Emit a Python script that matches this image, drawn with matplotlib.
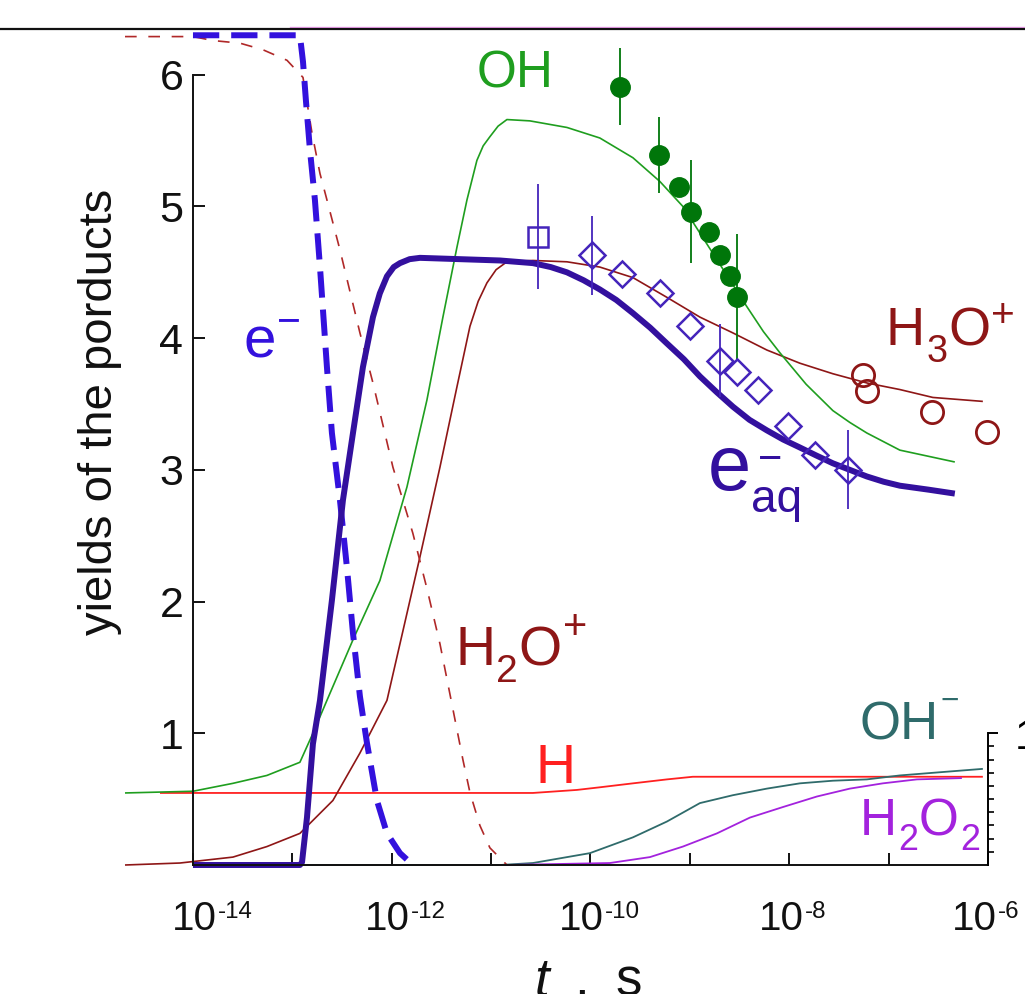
import numpy as np
import matplotlib
matplotlib.use("Agg")
import matplotlib.pyplot as plt
from matplotlib import font_manager
from matplotlib.ticker import FixedLocator, NullLocator
from matplotlib.lines import Line2D

# ---------------- data (log10 of time in s, yields) ----------------
e_minus_logt = [-14.0, -12.924, -12.893, -12.863, -12.823, -12.773, -12.722, -12.652,
                -12.602, -12.521, -12.451, -12.390, -12.320, -12.250, -12.149, -12.048,
                -11.917, -11.787]
e_minus_y = [6.30, 6.30, 6.10, 5.80, 5.43, 5.05, 4.54, 3.78, 3.28, 2.77, 2.26, 1.76,
             1.28, 0.93, 0.49, 0.24, 0.09, 0.0]

e_aq_logt = [-14.0, -12.924, -12.903, -12.853, -12.793, -12.722, -12.602, -12.491,
             -12.390, -12.290, -12.189, -12.12, -12.048, -11.98, -11.917, -11.82, -11.716,
             -10.911, -10.580, -10.40, -10.237, -10.07, -9.906, -9.74, -9.573, -9.40,
             -9.231, -9.06, -8.899, -8.73, -8.567, -8.40, -8.225, -8.06, -7.893, -7.73,
             -7.561, -7.39, -7.219, -7.05, -6.887, -6.60, -6.334]
e_aq_y = [0.0, 0.0, 0.02, 0.36, 0.92, 1.25, 2.01, 2.77, 3.28, 3.78, 4.16, 4.34, 4.47,
          4.54, 4.57, 4.60, 4.61, 4.59, 4.57, 4.54, 4.50, 4.44, 4.37, 4.29, 4.19, 4.08,
          3.96, 3.84, 3.71, 3.59, 3.48, 3.38, 3.30, 3.23, 3.17, 3.11, 3.05, 3.00, 2.95,
          2.91, 2.88, 2.85, 2.82]

oh_logt = [-14.684, -14.0, -13.598, -13.256, -12.924, -12.793, -12.652, -12.390, -12.119,
           -11.847, -11.646, -11.485, -11.344, -11.243, -11.143, -11.08, -11.012, -10.93,
           -10.841, -10.610, -10.237, -9.906, -9.573, -9.302, -9.070, -8.748, -8.427,
           -8.26, -8.095, -7.83, -7.561, -7.39, -7.219, -6.887, -6.334]
oh_y = [0.547, 0.56, 0.62, 0.68, 0.78, 1.0, 1.25, 1.71, 2.16, 2.87, 3.53, 4.16, 4.69,
        5.05, 5.35, 5.46, 5.53, 5.61, 5.66, 5.65, 5.60, 5.52, 5.37, 5.19, 5.00, 4.62,
        4.24, 4.05, 3.89, 3.65, 3.45, 3.36, 3.28, 3.15, 3.06]

h2o_plus_logt = [-14.684, -14.0, -13.799, -13.527, -13.296, -13.054, -12.893, -12.803,
                 -12.722, -12.652, -12.521, -12.320, -12.189, -11.988, -11.788, -11.646,
                 -11.515, -11.394, -11.284, -11.213, -11.113, -11.012, -10.841]
h2o_plus_y = [6.29, 6.29, 6.26, 6.24, 6.19, 6.11, 5.98, 5.56, 5.25, 5.05, 4.67, 4.04,
              3.66, 3.02, 2.52, 2.10, 1.68, 1.22, 0.80, 0.55, 0.30, 0.13, 0.0]

h3o_plus_logt = [-14.684, -14.131, -13.598, -13.256, -12.924, -12.592, -12.320, -12.048,
                 -11.716, -11.515, -11.344, -11.213, -11.13, -11.042, -10.95, -10.841,
                 -10.580, -10.237, -9.906, -9.573, -9.231, -8.899, -8.567, -8.225, -7.893,
                 -7.561, -7.219, -6.887, -6.555, -6.052]
h3o_plus_y = [0.0, 0.015, 0.06, 0.14, 0.24, 0.49, 0.85, 1.25, 2.34, 3.02, 3.63, 4.09,
              4.28, 4.42, 4.52, 4.58, 4.59, 4.58, 4.54, 4.46, 4.31, 4.16, 4.04, 3.91,
              3.81, 3.73, 3.66, 3.61, 3.55, 3.52]

h_logt = [-14.332, -10.580, -10.137, -9.906, -9.573, -9.231, -8.970, -6.052]
h_y = [0.547, 0.547, 0.57, 0.59, 0.62, 0.65, 0.67, 0.67]

oh_minus_logt = [-12.893, -10.911, -10.580, -10.006, -9.573, -9.231, -8.899, -8.567,
                 -8.225, -7.893, -7.561, -7.219, -6.887, -6.555, -6.052]
oh_minus_y = [0.0, 0.0, 0.015, 0.09, 0.21, 0.33, 0.47, 0.53, 0.58, 0.62, 0.64, 0.65,
              0.68, 0.70, 0.73]

h2o2_logt = [-10.861, -9.805, -9.402, -9.070, -8.728, -8.396, -8.064, -7.722, -7.390,
             -7.058, -6.716, -6.263]
h2o2_y = [0.0, 0.015, 0.06, 0.14, 0.24, 0.36, 0.44, 0.52, 0.58, 0.62, 0.65, 0.66]

# experimental points
oh_pts_logt = [-9.704, -9.312, -9.111, -8.990, -8.809, -8.698, -8.598, -8.527]
oh_pts_y = [5.91, 5.39, 5.15, 4.96, 4.81, 4.63, 4.47, 4.31]
oh_pts_err = [0.29, 0.29, 0.0, 0.39, 0.0, 0.0, 0.0, 0.48]

eaq_sq_logt = [-10.529]
eaq_sq_y = [4.77]
eaq_sq_err = [0.40]

eaq_dia_logt = [-9.986, -9.684, -9.302, -9.0, -8.698, -8.527, -8.316, -8.014, -7.742, -7.410]
eaq_dia_y = [4.63, 4.49, 4.34, 4.09, 3.83, 3.74, 3.61, 3.33, 3.11, 3.00]
eaq_dia_err = [0.30, 0.0, 0.0, 0.0, 0.28, 0.0, 0.0, 0.0, 0.0, 0.30]

h3o_pts_logt = [-7.260, -7.215, -6.565, -6.012]
h3o_pts_y = [3.72, 3.60, 3.44, 3.29]

x_tick_exps = list(range(-14, -5))
x_label_exps = [-14, -12, -10, -8, -6]
y_ticks = [1, 2, 3, 4, 5, 6]

# ---------------- style ----------------
W, H = 1025, 994
names = {f.name for f in font_manager.fontManager.ttflist}
REG = "Liberation Sans" if "Liberation Sans" in names else "DejaVu Sans"
NAR = "Liberation Sans Narrow" if "Liberation Sans Narrow" in names else REG

C_EM = "#3311dd"
C_EAQ = "#33109e"
C_EAQ_PT = "#4424bb"
C_OH = "#1f9e1f"
C_OH_PT = "#00760a"
C_H2OP = "#b02828"
C_H3OP = "#8e1616"
C_H = "#ff2020"
C_OHM = "#2f6b6b"
C_H2O2 = "#a322dd"

fig = plt.figure(figsize=(W / 100, H / 100), dpi=100)
ax = fig.add_axes([125 / W, 1 - 865 / H, 865 / W, 835 / H])
ax.set_xscale("log")
ax.set_xlim(10 ** -14.684, 10 ** -5.98)
ax.set_ylim(0, 6.34)
ax.patch.set_visible(False)


def T(v):
    return 10.0 ** np.asarray(v)


kw = dict(clip_on=False, solid_capstyle="butt", solid_joinstyle="round")
ax.plot(T(h_logt), h_y, color=C_H, lw=1.3, **kw)
ax.plot(T(oh_minus_logt), oh_minus_y, color=C_OHM, lw=1.3, **kw)
ax.plot(T(h2o2_logt), h2o2_y, color=C_H2O2, lw=1.3, **kw)
ax.plot(T(h3o_plus_logt), h3o_plus_y, color=C_H3OP, lw=1.2, **kw)
ax.plot(T(oh_logt), oh_y, color=C_OH, lw=1.2, **kw)
ax.plot(T(h2o_plus_logt), h2o_plus_y, color=C_H2OP, lw=1.2, dashes=(7, 7), clip_on=False)
ax.plot(T(e_minus_logt), e_minus_y, color=C_EM, lw=4.3, dashes=(4.4, 2.0), clip_on=False)
ax.plot(T(e_aq_logt), e_aq_y, color=C_EAQ, lw=4.3, **kw)

ax.errorbar(T(oh_pts_logt), oh_pts_y, yerr=oh_pts_err, fmt="o", ms=14, color=C_OH_PT,
            mfc=C_OH_PT, mec=C_OH_PT, elinewidth=1.3, capsize=0, clip_on=False, zorder=5)
ax.errorbar(T(eaq_sq_logt), eaq_sq_y, yerr=eaq_sq_err, fmt="s", ms=14, color=C_EAQ_PT,
            mfc="none", mec=C_EAQ_PT, mew=1.8, elinewidth=1.3, capsize=0, zorder=5)
ax.errorbar(T(eaq_dia_logt), eaq_dia_y, yerr=eaq_dia_err, fmt="D", ms=13, color=C_EAQ_PT,
            mfc="none", mec=C_EAQ_PT, mew=1.8, elinewidth=1.3, capsize=0, zorder=5)
ax.plot(T(h3o_pts_logt), h3o_pts_y, "o", ms=16, mfc="none", mec=C_H3OP, mew=2.0,
        clip_on=False, zorder=5)

# ---------------- axes ----------------
for s in ("top", "right"):
    ax.spines[s].set_visible(False)
ax.spines["left"].set_position(("data", 1e-14))
ax.spines["left"].set_bounds(0, 6)
ax.spines["bottom"].set_bounds(1e-14, 1e-6)
for s in ("left", "bottom"):
    ax.spines[s].set_linewidth(1.4)
    ax.spines[s].set_color("#111111")

ax.set_yticks(y_ticks)
ax.set_yticklabels([str(v) for v in y_ticks])
ax.tick_params(axis="y", direction="in", length=8.6, width=1.4, pad=7,
               labelsize=31, colors="#111111")
for lab in ax.get_yticklabels():
    lab.set_family(REG)

ax.xaxis.set_major_locator(FixedLocator([10.0 ** e for e in x_tick_exps]))
ax.xaxis.set_minor_locator(NullLocator())
ax.tick_params(axis="x", which="major", direction="in", length=8.6, width=1.4,
               labelbottom=False, colors="#111111")

ax2 = ax.twinx()
ax2.set_ylim(ax.get_ylim())
for s in ("top", "left", "bottom"):
    ax2.spines[s].set_visible(False)
ax2.spines["right"].set_position(("data", 1e-6))
ax2.spines["right"].set_bounds(0, 1)
ax2.spines["right"].set_linewidth(1.4)
ax2.set_yticks([1])
ax2.set_yticklabels(["1"])
ax2.yaxis.set_minor_locator(FixedLocator(np.arange(1, 10) / 10))
ax2.tick_params(axis="y", which="major", direction="out", length=7.5, width=1.4,
                pad=12, labelsize=31)
ax2.tick_params(axis="y", which="minor", direction="out", length=4, width=1.2)
for lab in ax2.get_yticklabels():
    lab.set_family(REG)

renderer = fig.canvas.get_renderer()


def parts_text(x_px, base_px, parts, size, color, family, ha="left", style="normal"):
    """parts: (string, scale, raise in px)."""
    items = []
    x = 0.0
    for s, sc, dy in parts:
        t = fig.text(0, 0, s, fontsize=size * sc, family=family, color=color,
                     va="baseline", ha="left", fontstyle=style)
        w = t.get_window_extent(renderer).width
        items.append((t, x, dy))
        x += w + 1
    x0 = x_px - (x / 2 if ha == "center" else 0)
    for t, xo, dy in items:
        t.set_position(((x0 + xo) / W, (H - base_px + dy) / H))


# x tick labels at the scale positions of the ticks
for e in x_label_exps:
    xd = ax.transData.transform((10.0 ** e, 0))[0]
    shift = 20 - 2.7 * (e + 14)
    parts_text(xd + shift, 930, [("10", 1, 0), ("-%d" % -e, 0.6, 12)], 29, "#111111", NAR,
               ha="center")

# axis labels
fig.text(100 / W, 1 - 412 / H, "yields of the porducts", rotation=90, ha="center",
         va="center", fontsize=34, family=REG, color="#111111")
fig.text(535 / W, (H - 996) / H, "t", fontsize=38, family=REG, style="italic",
         va="baseline", color="#111111")
fig.text(574 / W, (H - 996) / H, ",", fontsize=38, family=REG, va="baseline", color="#111111")
fig.text(615 / W, (H - 996) / H, "s", fontsize=38, family=REG, va="baseline", color="#111111")

# curve labels
parts_text(477, 87, [("OH", 1, 0)], 37, C_OH, NAR)
parts_text(243, 357, [("e", 1, 0), ("\u2212", 0.7, 24)], 42, C_EM, REG)
fig.text(708 / W, (H - 490) / H, "e", fontsize=56, family=REG, color=C_EAQ, va="baseline")
fig.text(758 / W, (H - 471) / H, "\u2212", fontsize=30, family=REG, color=C_EAQ, va="baseline")
fig.text(751 / W, (H - 512) / H, "aq", fontsize=33, family=REG, color=C_EAQ, va="baseline")
parts_text(886, 345, [("H", 1, 0), ("3", 0.7, -17), ("O", 1, 0), ("+", 0.75, 18)], 39,
           C_H3OP, REG)
parts_text(455, 665, [("H", 1, 0), ("2", 0.7, -17), ("O", 1, 0), ("+", 0.75, 26)], 40,
           C_H3OP, REG)
parts_text(535, 783, [("H", 1, 0)], 40, C_H, REG)
parts_text(860, 740, [("OH", 1, 0), ("\u2212", 0.6, 30)], 38, C_OHM, NAR)
parts_text(860, 835, [("H", 1, 0), ("2", 0.7, -15), ("O", 1, 0), ("2", 0.7, -15)], 37,
           C_H2O2, NAR)

# frame line at the top of the picture
fig.add_artist(Line2D([290 / W, 1], [1 - 27 / H] * 2, transform=fig.transFigure,
                      color="#f0a0f0", lw=1.0))
fig.add_artist(Line2D([0, 1], [1 - 29 / H] * 2, transform=fig.transFigure,
                      color="#111111", lw=1.6))

fig.savefig("out.png", dpi=100)
